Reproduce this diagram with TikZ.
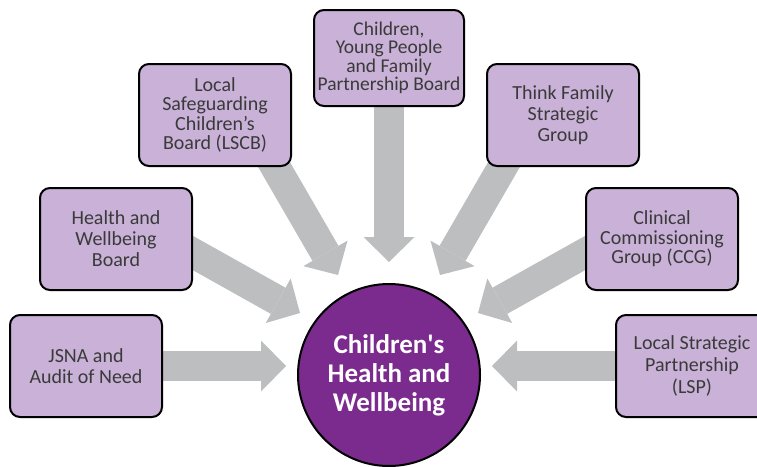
\documentclass[tikz,border=0pt]{standalone}
\usepackage{fontspec}
\setmainfont{Carlito}
\usetikzlibrary{arrows.meta,backgrounds}
\definecolor{boxlilac}{HTML}{C9B1D7}
\definecolor{hubpurple}{HTML}{7B2A8E}
\definecolor{arrowgrey}{HTML}{BCBEC0}
\definecolor{boxtext}{HTML}{3A3A3A}

\begin{document}
\begin{tikzpicture}[x=1pt,y=-1pt]
\tikzstyle{body}=[draw,line width=2pt,fill=boxlilac,rounded corners=10pt,minimum width=152pt,minimum height=102pt,align=center,text=boxtext,font=\fontsize{20}{21}\selectfont];
\tikzstyle{hub}=[draw,line width=2pt,circle,fill=hubpurple,minimum size=182pt,align=center,text=white,font=\fontsize{27}{29}\selectfont\bfseries];
\tikzstyle{feed}=[draw=arrowgrey,line width=30pt,-{Triangle[length=25pt,width=51pt,line width=0pt]}];
\useasboundingbox (0,0) rectangle (757,466);
\clip (0,0) rectangle (757,466);
\node [hub] (chw) at (389,375) {Children\textquotesingle s\\Health and\\Wellbeing};
\node [body] (jsna) at (86,366) {JSNA and\\Audit of Need};
\node [body] (hwb) at (116,239) {Health and\\Wellbeing\\Board};
\node [body,font=\fontsize{20}{19.5}\selectfont] (lscb) at (215,115) {Local\\Safeguarding\\Children's\\Board (LSCB)};
\node [body,minimum width=150pt,minimum height=96pt,inner sep=2pt,font=\fontsize{19.5}{18.5}\selectfont] (cyp) at (389,58) {Children,\\Young People\\and Family\\Partnership Board};
\node [body] (tfs) at (563,115) {Think Family\\Strategic\\Group};
\node [body,font=\fontsize{20}{19.5}\selectfont] (ccg) at (662,239) {Clinical\\Commissioning\\Group (CCG)};
\node [body,font=\fontsize{20}{22}\selectfont] (lsp) at (692,366) {Local Strategic\\Partnership\\(LSP)};
\coordinate (jsna-t) at (286,366);
\coordinate (hwb-t) at (300,313);
\coordinate (lscb-t) at (338,275);
\coordinate (cyp-t) at (389,262);
\coordinate (tfs-t) at (440,275);
\coordinate (ccg-t) at (478,313);
\coordinate (lsp-t) at (492,366);
\begin{scope}[on background layer]
\draw [feed] (jsna.center) -- (jsna-t);
\draw [feed] ([shift={(34,-10)}]hwb.center) -- (hwb-t);
\draw [feed] ([shift={(39,15)}]lscb.center) -- (lscb-t);
\draw [feed] (cyp.center) -- (cyp-t);
\draw [feed] ([shift={(-39,15)}]tfs.center) -- (tfs-t);
\draw [feed] ([shift={(-34,-10)}]ccg.center) -- (ccg-t);
\draw [feed] (lsp.center) -- (lsp-t);
\end{scope}
\end{tikzpicture}
\end{document}
